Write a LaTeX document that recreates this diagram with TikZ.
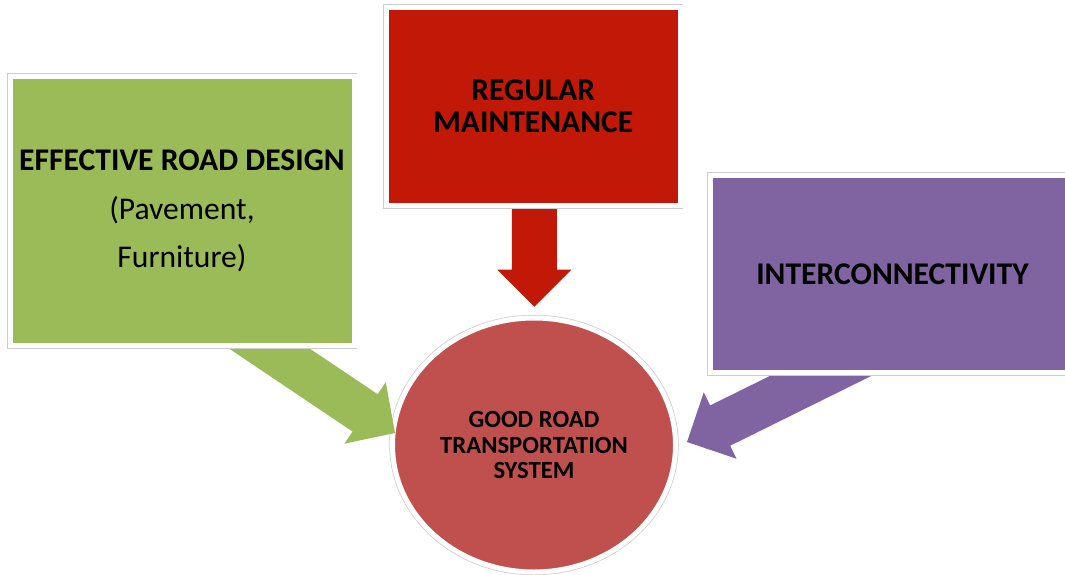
\documentclass[tikz,border=0pt]{standalone}
\usepackage{fontspec}
\setmainfont{Carlito}
\usetikzlibrary{calc,shapes.geometric}

\definecolor{leaf}{RGB}{155,187,89}
\definecolor{brick}{RGB}{194,24,7}
\definecolor{rose}{RGB}{192,80,77}
\definecolor{plum}{RGB}{128,100,162}
\definecolor{rim}{RGB}{205,205,205}

% layers: the hub at the bottom, the block arrows over it, the boxes on top
\pgfdeclarelayer{base}
\pgfdeclarelayer{links}
\pgfsetlayers{base,links,main}

% one-piece block arrow: #1 colour, #2 tail, #3 tip, #4 head length
% (shaft 45pt wide, head 74pt wide)
\newcommand\flowarrow[4]{%
  \fill[#1]
    ($(#2)!22.5pt!90:(#3)$) --
    ($($(#3)!#4!(#2)$)!22.5pt!90:(#3)$) --
    ($($(#3)!#4!(#2)$)!37pt!90:(#3)$) --
    (#3) --
    ($($(#3)!#4!(#2)$)!37pt!-90:(#3)$) --
    ($($(#3)!#4!(#2)$)!22.5pt!-90:(#3)$) --
    ($(#2)!22.5pt!-90:(#3)$) -- cycle;}

\begin{document}
\begin{tikzpicture}[x=1pt,y=-1pt,
  panel/.style={preaction={draw=rim,line width=6.5pt},
    draw=white,line width=5pt,inner sep=0pt,align=center,text=black},
  boxfont/.style={font=\fontsize{31.6}{#1}\selectfont}]
\useasboundingbox (0,0) rectangle (1065,575);

% central goal
\begin{pgfonlayer}{base}
\node[panel,ellipse,fill=rose,minimum width=283pt,minimum height=254pt,
  font=\fontsize{24.7}{25.5}\selectfont\bfseries] (hub) at (534,445)
  {GOOD ROAD\\TRANSPORTATION\\SYSTEM};
\end{pgfonlayer}

% contributing factors
\node[panel,fill=leaf,minimum width=344pt,minimum height=269pt,boxfont=48.5]
  (design) at (182,211)
  {\bfseries EFFECTIVE ROAD DESIGN\\(Pavement,\\Furniture)};
\node[panel,fill=brick,minimum width=293.5pt,minimum height=198pt,boxfont=32]
  (upkeep) at (533.3,106.5)
  {\bfseries REGULAR\\\bfseries MAINTENANCE};
\node[panel,fill=plum,minimum width=365pt,minimum height=197.5pt,boxfont=32]
  (links) at (892.5,273.8)
  {\bfseries INTERCONNECTIVITY};

% arrow ends
\coordinate (designtail) at (215,312);
\coordinate (designtip)  at (395,433);
\coordinate (upkeeptail) at (534.3,190);
\coordinate (upkeeptip)  at (534.3,306.7);
\coordinate (linkstail)  at (877,348);
\coordinate (linkstip)   at (687,442);

\begin{pgfonlayer}{links}
\flowarrow{leaf}{designtail}{designtip}{36pt}
\flowarrow{brick}{upkeeptail}{upkeeptip}{37pt}
\flowarrow{plum}{linkstail}{linkstip}{37pt}
\end{pgfonlayer}
\end{tikzpicture}
\end{document}
